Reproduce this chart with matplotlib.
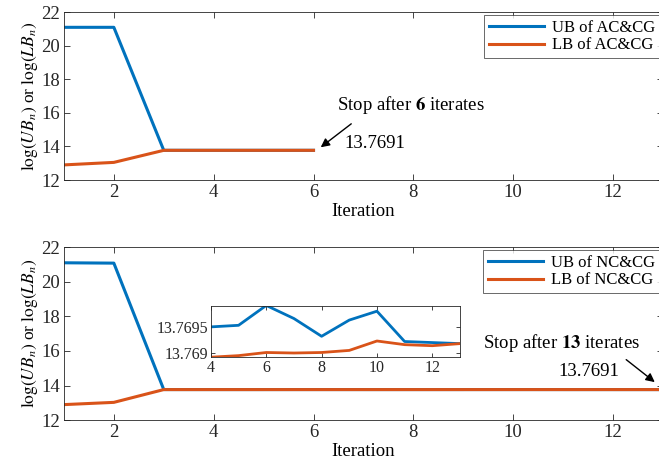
import matplotlib
matplotlib.use("Agg")
import matplotlib.pyplot as plt
import numpy as np

plt.rcParams['font.family'] = ['Liberation Serif', 'DejaVu Serif']
plt.rcParams['mathtext.fontset'] = 'stix'
plt.rcParams['font.size'] = 13

iters_ac = [1, 2, 3, 4, 5, 6]
ub_ac = [21.1, 21.1, 13.7698, 13.7695, 13.7695, 13.7694]
lb_ac = [12.9, 13.05, 13.7688, 13.7689, 13.769, 13.7691]

iters_nc = list(range(1, 14))
ub_nc = [21.1, 21.08, 13.7698, 13.7695, 13.76953, 13.76991, 13.76966, 13.76932,
         13.76963, 13.76980, 13.76922, 13.76920, 13.76918]
lb_nc = [12.9, 13.03, 13.7688, 13.76892, 13.76895, 13.76901, 13.76900, 13.76901,
         13.76905, 13.76923, 13.76916, 13.76914, 13.76918]

blue = '#0072BD'
orange = '#D95319'
ylabel = r'$\log(UB_n)$ or $\log(LB_n)$'

fig = plt.figure(figsize=(6.59, 4.70), dpi=100)
ax1 = fig.add_axes([0.097, 0.617, 0.909, 0.357])
ax2 = fig.add_axes([0.097, 0.106, 0.909, 0.368])

def style(ax):
    ax.set_xlim(1, 13)
    ax.set_ylim(12, 22)
    ax.set_xticks([2, 4, 6, 8, 10, 12])
    ax.set_yticks([12, 14, 16, 18, 20, 22])
    ax.tick_params(direction='in', top=True, right=True, length=4, width=0.6,
                   labelsize=13.5, pad=3, colors='#262626')
    for s in ax.spines.values():
        s.set_linewidth(0.6)
        s.set_color('#262626')
    ax.set_xlabel('Iteration', fontsize=13.5, labelpad=1)
    ax.set_ylabel(ylabel, fontsize=12.5, labelpad=1)

def legend(ax):
    lg = ax.legend(loc='upper right', fontsize=12, frameon=True, fancybox=False,
                   edgecolor='#262626', handlelength=3.3, borderaxespad=0.15,
                   labelspacing=0.1, borderpad=0.3, handletextpad=0.5)
    lg.get_frame().set_linewidth(0.6)

ax1.plot(iters_ac, ub_ac, color=blue, lw=2.2, label='UB of AC&CG')
ax1.plot(iters_ac, lb_ac, color=orange, lw=2.2, label='LB of AC&CG')
style(ax1)
legend(ax1)
ax1.annotate('', xy=(6.1, 13.85), xytext=(6.8, 15.45),
             arrowprops=dict(arrowstyle='-|>', color='k', lw=1, mutation_scale=13))
ax1.text(7.95, 16.5, r'Stop after $\mathbf{6}$ iterates', ha='center', va='center', fontsize=13.5)
ax1.text(6.62, 14.2, '13.7691', ha='left', va='center', fontsize=13.5)

ax2.plot(iters_nc, ub_nc, color=blue, lw=2.2, label='UB of NC&CG')
ax2.plot(iters_nc, lb_nc, color=orange, lw=2.2, label='LB of NC&CG')
style(ax2)
legend(ax2)
ax2.annotate('', xy=(12.88, 14.1), xytext=(12.22, 15.6),
             arrowprops=dict(arrowstyle='-|>', color='k', lw=1, mutation_scale=13))
ax2.text(10.96, 16.45, r'Stop after $\mathbf{13}$ iterates', ha='center', va='center', fontsize=13.5)
ax2.text(11.52, 14.8, '13.7691', ha='center', va='center', fontsize=13.5)

ins = fig.add_axes([0.320, 0.240, 0.378, 0.109])
ins.plot(iters_nc[3:], ub_nc[3:], color=blue, lw=2.0)
ins.plot(iters_nc[3:], lb_nc[3:], color=orange, lw=2.0)
ins.set_xlim(4, 13)
ins.set_ylim(13.76892, 13.7699)
ins.set_xticks([4, 6, 8, 10, 12])
ins.set_yticks([13.769, 13.7695])
ins.set_yticklabels(['13.769', '13.7695'])
ins.tick_params(direction='in', top=True, right=True, length=3, width=0.6,
                labelsize=11.5, pad=2, colors='#262626')
for s in ins.spines.values():
    s.set_linewidth(0.6)
    s.set_color('#262626')

fig.savefig('out.png', dpi=100)
